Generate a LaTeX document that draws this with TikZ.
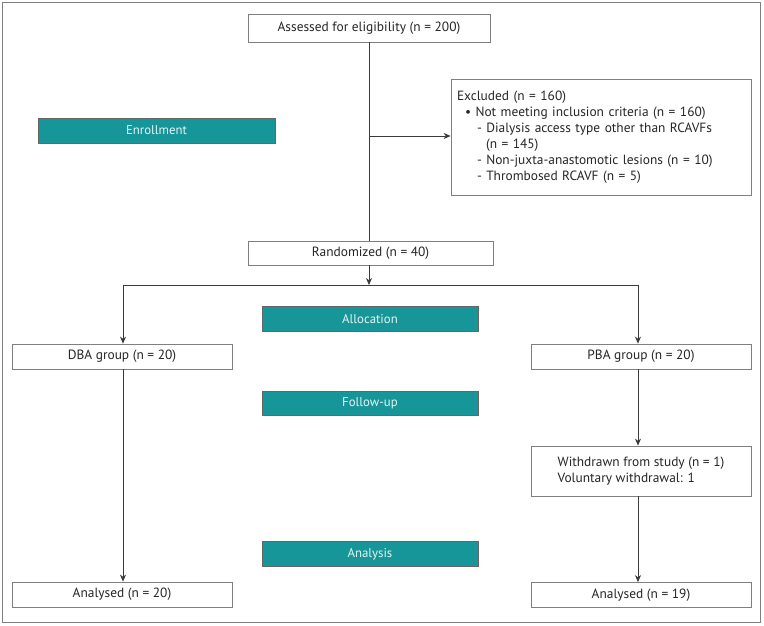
\documentclass[tikz,border=0pt]{standalone}
\usepackage{fontspec}
\setmainfont{PT Sans}
\usetikzlibrary{arrows.meta}
\definecolor{teal1}{HTML}{17969A}
\definecolor{bartext}{HTML}{E6F4F4}
\definecolor{boxline}{HTML}{7F7F7F}
\definecolor{conn}{HTML}{3A3A3A}
\begin{document}
\begin{tikzpicture}[x=1pt,y=-1pt,
  box/.style={draw=boxline, line width=0.8pt, fill=white, rectangle, inner sep=0pt,
    minimum width=220pt, minimum height=25pt, font=\fontsize{13.4}{15}\selectfont, text=black!85},
  bar/.style={draw=black!60, line width=0.6pt, fill=teal1, rectangle, inner sep=0pt,
    minimum width=216pt, minimum height=24.5pt, font=\fontsize{12.8}{15}\selectfont, text=bartext},
  arr/.style={draw=conn, line width=0.7pt, -{Stealth[length=7pt,width=6pt]}},
  ln/.style={draw=conn, line width=0.7pt}
]
\useasboundingbox (0,0) rectangle (764,626);
\draw[draw=black!50, line width=1pt] (2.5,2.5) rectangle (760.5,622.5);

\node[box, minimum width=242pt, minimum height=28pt] (assess) at (369,28) {Assessed for eligibility (n = 200)};
\node[box, minimum width=300pt, minimum height=116pt, align=left, text width=288pt,
  font=\fontsize{13.4}{16}\selectfont] (exc) at (601,137)
  {Excluded (n = 160)\\
   \hspace*{8pt}• Not meeting inclusion criteria (n = 160)\\
   \hspace*{20pt}- Dialysis access type other than RCAVFs\\
   \hspace*{29pt}(n = 145)\\
   \hspace*{20pt}- Non-juxta-anastomotic lesions (n = 10)\\
   \hspace*{20pt}- Thrombosed RCAVF (n = 5)};
\node[bar, minimum width=237pt, minimum height=25pt] (enr) at (156.5,130.5) {Enrollment};
\node[box, minimum width=245pt, minimum height=24pt] (rand) at (370.5,253) {Randomized (n = 40)};
\node[bar] (alloc) at (370,319) {Allocation};
\node[box] (dba) at (122,356.5) {DBA group (n = 20)};
\node[box] (pba) at (641,356.5) {PBA group (n = 20)};
\node[bar] (fu) at (370,403.5) {Follow-up};
\node[box, minimum height=50pt, align=left, font=\fontsize{13.4}{16}\selectfont] (wd) at (641,471)
  {Withdrawn from study (n = 1)\\Voluntary withdrawal: 1};
\node[bar] (ana) at (370,554) {Analysis};
\node[box] (an1) at (122,594.5) {Analysed (n = 20)};
\node[box] (an2) at (641,595) {Analysed (n = 19)};

\coordinate (rl) at (123,285);
\coordinate (rr) at (638,285);
\coordinate (ex) at (369,136);

\draw[ln] (assess.south) -- (assess.south |- rand.north);
\draw[arr] (ex) -- (ex -| exc.west);
\draw[arr] (rand.south -| ex) -- (rl -| ex);
\draw[ln] (rl) -- (rr);
\draw[arr] (rl) -- (rl |- dba.north);
\draw[arr] (rr) -- (rr |- pba.north);
\draw[arr] (rr |- pba.south) -- (rr |- wd.north);
\draw[arr] (rr |- wd.south) -- (rr |- an2.north);
\draw[arr] (rl |- dba.south) -- (rl |- an1.north);
\end{tikzpicture}
\end{document}
